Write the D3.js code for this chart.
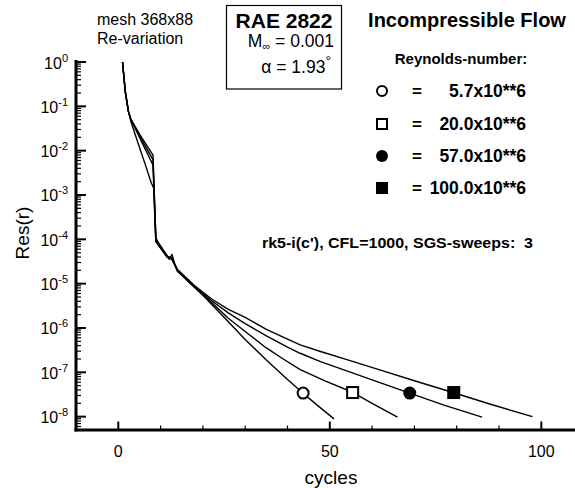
<!DOCTYPE html>
<html>
<head>
<meta charset="utf-8">
<script src="https://cdnjs.cloudflare.com/ajax/libs/d3/7.8.5/d3.min.js"></script>
<style>
  body { margin: 0; background: #fff; }
  svg { display: block; font-family: "Liberation Sans", Arial, sans-serif; }
</style>
</head>
<body>
<div id="chart"></div>
<script>
//Convergence histories, cycles vs log10 of residual
var re5Cycles = [1, 1.65, 2.4, 3, 4.5, 6.4, 7.8, 8.4, 8.9, 10, 11.5, 12.7, 14, 16, 18, 20, 25, 30, 35, 40, 43.7, 47, 51];
var re5Exp    = [0, -0.67, -1.12, -1.35, -1.78, -2.32, -2.73, -2.85, -4.05, -4.2, -4.4, -4.46, -4.72, -4.9, -5.08, -5.26, -5.76, -6.26, -6.72, -7.16, -7.47, -7.74, -8.05];

var re20Cycles = [1, 1.65, 2.4, 3, 5.5, 8.2, 8.8, 10, 11.5, 12.7, 14, 16, 18, 22, 26, 30, 35, 39, 43, 49, 55.4, 60, 66];
var re20Exp    = [0, -0.67, -1.12, -1.3, -1.8, -2.32, -3.95, -4.18, -4.38, -4.42, -4.7, -4.9, -5.08, -5.42, -5.78, -6.08, -6.45, -6.7, -6.94, -7.2, -7.45, -7.7, -8.01];

var re57Cycles = [1, 1.65, 2.4, 3, 5.5, 8.2, 8.9, 10, 11.5, 12, 12.7, 13.3, 14, 16, 18, 22, 26, 30, 35, 40, 43, 47.8, 55, 62, 68.9, 77, 86];
var re57Exp    = [0, -0.67, -1.12, -1.3, -1.75, -2.2, -4.0, -4.15, -4.36, -4.45, -4.34, -4.55, -4.72, -4.88, -5.06, -5.38, -5.66, -5.9, -6.18, -6.43, -6.57, -6.76, -7.0, -7.24, -7.47, -7.74, -8.01];

var re100Cycles = [1, 1.65, 2.4, 3, 5.5, 8.2, 8.9, 10, 11.5, 12.7, 14, 16, 18, 22, 26, 30, 35, 40, 43, 47.8, 55, 62, 70, 79.3, 88, 97.9];
var re100Exp    = [0, -0.67, -1.12, -1.3, -1.7, -2.1, -4.05, -4.2, -4.38, -4.44, -4.68, -4.86, -5.04, -5.34, -5.58, -5.76, -6.03, -6.25, -6.38, -6.53, -6.74, -6.95, -7.19, -7.46, -7.72, -8.0];

//Symbols sitting on each curve
var markerCycles = [43.7, 55.4, 68.9, 79.3];
var markerRes = [3.4e-8, 3.5e-8, 3.4e-8, 3.5e-8];
var markerTypes = ["circle", "square", "dot", "block"];

//Legend entries
var reLabels = ["5.7x10**6", "20.0x10**6", "57.0x10**6", "100.0x10**6"];

//Axis ticks
var xTicks = [0, 50, 100];
var xMinor = [-10, 10, 20, 30, 40, 60, 70, 80, 90, 110];
var yDecades = [0, -1, -2, -3, -4, -5, -6, -7, -8];

var width = 575, height = 488;

var svg = d3.select("#chart").append("svg")
    .attr("width", width)
    .attr("height", height);

var x = d3.scaleLinear().domain([-10, 110]).range([76, 583.6]);
var y = d3.scaleLog().domain([5e-9, 1]).range([430, 62]);

//Minor log ticks 2..9 in every decade
var yMinor = [];
for (var e = -9; e < 0; e++) {
    for (var m = 2; m <= 9; m++) {
        var v = m * Math.pow(10, e);
        if (v >= 5e-9 && v < 1) yMinor.push(v);
    }
}

//Left axis
var yAxis = svg.append("g").attr("transform", "translate(76,0)");
yAxis.selectAll("line.minor").data(yMinor).enter().append("line")
    .attr("x1", 0).attr("x2", 5)
    .attr("y1", function(d) { return y(d); }).attr("y2", function(d) { return y(d); })
    .attr("stroke", "#000").attr("stroke-width", 1.2);
yAxis.selectAll("line.major").data(yDecades).enter().append("line")
    .attr("x1", 0).attr("x2", 10)
    .attr("y1", function(d) { return y(Math.pow(10, d)); }).attr("y2", function(d) { return y(Math.pow(10, d)); })
    .attr("stroke", "#000").attr("stroke-width", 2);
yAxis.append("line")
    .attr("x1", 0).attr("x2", 0).attr("y1", 60).attr("y2", 431.5)
    .attr("stroke", "#000").attr("stroke-width", 3);

//Decade labels with superscript exponents
var yLabels = svg.selectAll("text.ylab").data(yDecades).enter().append("text")
    .attr("class", "ylab")
    .attr("x", 68)
    .attr("y", function(d) { return y(Math.pow(10, d)) + 6.5; })
    .attr("text-anchor", "end")
    .style("font-size", "16px");
yLabels.append("tspan").text("10");
yLabels.append("tspan").attr("dy", -7).style("font-size", "11px").text(function(d) { return d; });

//Bottom axis
var xAxis = svg.append("g").attr("transform", "translate(0,430)");
xAxis.selectAll("line.minor").data(xMinor).enter().append("line")
    .attr("x1", function(d) { return x(d); }).attr("x2", function(d) { return x(d); })
    .attr("y1", 0).attr("y2", -4.5)
    .attr("stroke", "#000").attr("stroke-width", 1.2);
xAxis.selectAll("line.major").data(xTicks).enter().append("line")
    .attr("x1", function(d) { return x(d); }).attr("x2", function(d) { return x(d); })
    .attr("y1", 0).attr("y2", -8.5)
    .attr("stroke", "#000").attr("stroke-width", 2);
xAxis.append("line")
    .attr("x1", 74.5).attr("x2", width).attr("y1", 0).attr("y2", 0)
    .attr("stroke", "#000").attr("stroke-width", 3);
xAxis.selectAll("text").data(xTicks).enter().append("text")
    .attr("x", function(d) { return x(d); })
    .attr("y", 27)
    .attr("text-anchor", "middle")
    .style("font-size", "16px")
    .text(function(d) { return d; });

//Axis titles
svg.append("text").attr("x", 331).attr("y", 484)
    .attr("text-anchor", "middle").style("font-size", "19px").text("cycles");
svg.append("text").attr("transform", "translate(29,233) rotate(-90)")
    .attr("text-anchor", "middle").style("font-size", "19px").text("Res(r)");

//Curves
var series = [
    [re5Cycles, re5Exp],
    [re20Cycles, re20Exp],
    [re57Cycles, re57Exp],
    [re100Cycles, re100Exp]
];
var line = d3.line()
    .x(function(d) { return x(d[0]); })
    .y(function(d) { return y(Math.pow(10, d[1])); });

svg.selectAll("path.curve").data(series).enter().append("path")
    .attr("class", "curve")
    .attr("d", function(s) { return line(d3.zip(s[0], s[1])); })
    .attr("fill", "none")
    .attr("stroke", "#000")
    .attr("stroke-width", 1.4)
    .attr("stroke-linejoin", "round");

//Draws one of the four symbols centred on cx, cy
function drawMarker(g, type, cx, cy, size) {
    if (type == "circle" || type == "dot") {
        g.append("circle").attr("cx", cx).attr("cy", cy).attr("r", size / 2 - (type == "circle" ? 1 : 0))
            .attr("fill", type == "dot" ? "#000" : "#fff")
            .attr("stroke", "#000").attr("stroke-width", type == "circle" ? 2 : 0);
    } else {
        var s = type == "square" ? size - 2 : size;
        g.append("rect").attr("x", cx - s / 2).attr("y", cy - s / 2)
            .attr("width", s).attr("height", s)
            .attr("fill", type == "block" ? "#000" : "#fff")
            .attr("stroke", "#000").attr("stroke-width", type == "square" ? 2 : 0);
    }
}

var marks = svg.append("g");
markerCycles.forEach(function(c, i) {
    drawMarker(marks, markerTypes[i], x(c), y(markerRes[i]), 13);
});

//Top left note
svg.append("text").attr("x", 97).attr("y", 25).style("font-size", "16px").text("mesh 368x88");
svg.append("text").attr("x", 97).attr("y", 44).style("font-size", "16px").text("Re-variation");

//Case box
svg.append("rect").attr("x", 226.5).attr("y", 5.5).attr("width", 115).attr("height", 83.5)
    .attr("fill", "none").attr("stroke", "#000").attr("stroke-width", 1.2);
svg.append("text").attr("x", 284).attr("y", 28).attr("text-anchor", "middle")
    .style("font-size", "21px").style("font-weight", "bold").text("RAE 2822");
var mach = svg.append("text").attr("x", 334).attr("y", 47).attr("text-anchor", "end").style("font-size", "17.5px");
mach.append("tspan").text("M");
mach.append("tspan").attr("dy", 3).style("font-size", "11px").text("\u221e");
mach.append("tspan").attr("dy", -3).text(" = 0.001");
var alpha = svg.append("text").attr("x", 331).attr("y", 73).attr("text-anchor", "end").style("font-size", "17.5px");
alpha.append("tspan").text("\u03b1 = 1.93");
alpha.append("tspan").attr("dy", -7).style("font-size", "14px").text("\u00b0");

//Right side titles
svg.append("text").attr("x", 467).attr("y", 27).attr("text-anchor", "middle")
    .style("font-size", "20px").style("font-weight", "bold").text("Incompressible Flow");
svg.append("text").attr("x", 461).attr("y", 64).attr("text-anchor", "middle")
    .style("font-size", "15px").style("font-weight", "bold").text("Reynolds-number:");

//Legend rows
var legendY = [91, 124, 156, 188];
var legend = svg.append("g");
reLabels.forEach(function(lab, i) {
    drawMarker(legend, markerTypes[i], 382, legendY[i], 12);
    legend.append("text").attr("x", 412).attr("y", legendY[i] + 6)
        .style("font-size", "17px").style("font-weight", "bold").text("=");
    legend.append("text").attr("x", 526).attr("y", legendY[i] + 6).attr("text-anchor", "end")
        .style("font-size", "17.5px").style("font-weight", "bold").text(lab);
});

//Solver settings
svg.append("text").attr("x", 262).attr("y", 248)
    .attr("textLength", 271).attr("lengthAdjust", "spacingAndGlyphs")
    .style("font-size", "15.5px").style("font-weight", "bold").style("white-space", "pre")
    .text("rk5-i(c'), CFL=1000, SGS-sweeps:  3");
</script>
</body>
</html>
